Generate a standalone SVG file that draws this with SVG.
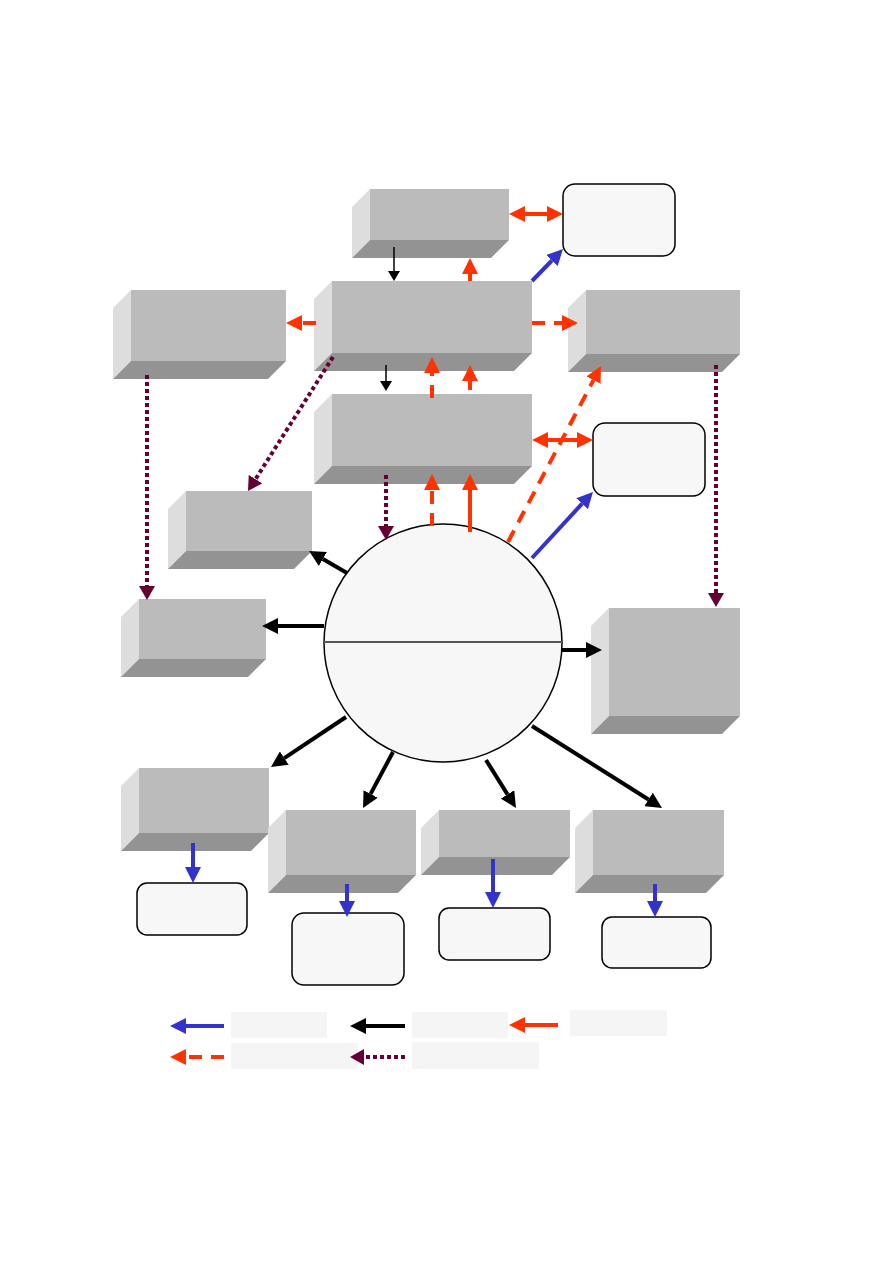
<svg xmlns="http://www.w3.org/2000/svg" width="893" height="1263" viewBox="0 0 893 1263">
<style>
.fr{fill:#BBBBBB}
.sd{fill:#DDDDDD}
.bt{fill:#939393}
.rr{fill:#F7F7F7;stroke:#000;stroke-width:1.5}
.red{stroke:#FF3300;stroke-width:4;fill:none}
.dash{stroke-dasharray:13 9}
.blue{stroke:#3333CC;stroke-width:4;fill:none}
.blk{stroke:#000;stroke-width:4;fill:none}
.thin{stroke:#000;stroke-width:1.5;fill:none}
.pur{stroke:#660033;stroke-width:4;stroke-dasharray:4 3;fill:none}
.leg{fill:#F5F5F5}
</style>
<defs>
<marker id="hr" viewBox="0 -8 16 16" refX="0" refY="0" markerUnits="userSpaceOnUse" markerWidth="16" markerHeight="16" orient="auto-start-reverse"><path d="M0,-8L16,0L0,8z" fill="#FF3300"/></marker>
<marker id="hb" viewBox="0 -8 16 16" refX="0" refY="0" markerUnits="userSpaceOnUse" markerWidth="16" markerHeight="16" orient="auto"><path d="M0,-8L16,0L0,8z" fill="#3333CC"/></marker>
<marker id="hk" viewBox="0 -8 16 16" refX="0" refY="0" markerUnits="userSpaceOnUse" markerWidth="16" markerHeight="16" orient="auto"><path d="M0,-8L16,0L0,8z" fill="#000"/></marker>
<marker id="ht" viewBox="0 -6 10 12" refX="0" refY="0" markerUnits="userSpaceOnUse" markerWidth="10" markerHeight="12" orient="auto"><path d="M0,-6L10,0L0,6z" fill="#000"/></marker>
<marker id="hp" viewBox="0 -8 14 16" refX="0" refY="0" markerUnits="userSpaceOnUse" markerWidth="14" markerHeight="16" orient="auto"><path d="M0,-8L14,0L0,8z" fill="#660033"/></marker>
</defs>

<g id="nodeA"><polygon class="sd" points="352,207 370,189 370,240 352,258"/><polygon class="bt" points="352,258 370,240 509,240 491,258"/><rect class="fr" x="370" y="189" width="139" height="51"/></g>
<g id="nodeB"><polygon class="sd" points="314,299 332,281 332,353 314,371"/><polygon class="bt" points="314,371 332,353 532,353 514,371"/><rect class="fr" x="332" y="281" width="200" height="72"/></g>
<g id="nodeC"><polygon class="sd" points="568,308 586,290 586,354 568,372"/><polygon class="bt" points="568,372 586,354 740,354 722,372"/><rect class="fr" x="586" y="290" width="154" height="64"/></g>
<g id="nodeD"><polygon class="sd" points="113,308 131,290 131,361 113,379"/><polygon class="bt" points="113,379 131,361 286,361 268,379"/><rect class="fr" x="131" y="290" width="155" height="71"/></g>
<g id="nodeE"><polygon class="sd" points="314,412 332,394 332,466 314,484"/><polygon class="bt" points="314,484 332,466 532,466 514,484"/><rect class="fr" x="332" y="394" width="200" height="72"/></g>
<g id="nodeF"><polygon class="sd" points="168,509 186,491 186,551 168,569"/><polygon class="bt" points="168,569 186,551 312,551 294,569"/><rect class="fr" x="186" y="491" width="126" height="60"/></g>
<g id="nodeG"><polygon class="sd" points="121,617 139,599 139,659 121,677"/><polygon class="bt" points="121,677 139,659 266,659 248,677"/><rect class="fr" x="139" y="599" width="127" height="60"/></g>
<g id="nodeH"><polygon class="sd" points="591,626 609,608 609,716 591,734"/><polygon class="bt" points="591,734 609,716 740,716 722,734"/><rect class="fr" x="609" y="608" width="131" height="108"/></g>
<g id="nodeI"><polygon class="sd" points="121,786 139,768 139,833 121,851"/><polygon class="bt" points="121,851 139,833 269,833 251,851"/><rect class="fr" x="139" y="768" width="130" height="65"/></g>
<g id="nodeJ"><polygon class="sd" points="268,828 286,810 286,875 268,893"/><polygon class="bt" points="268,893 286,875 416,875 398,893"/><rect class="fr" x="286" y="810" width="130" height="65"/></g>
<g id="nodeK"><polygon class="sd" points="421,828 439,810 439,857 421,875"/><polygon class="bt" points="421,875 439,857 570,857 552,875"/><rect class="fr" x="439" y="810" width="131" height="47"/></g>
<g id="nodeL"><polygon class="sd" points="575,828 593,810 593,875 575,893"/><polygon class="bt" points="575,893 593,875 724,875 706,893"/><rect class="fr" x="593" y="810" width="131" height="65"/></g>

<g id="nodeR1"><rect class="rr" x="563" y="184" width="112" height="72" rx="12"/></g>
<g id="nodeR2"><rect class="rr" x="593" y="423" width="112" height="73" rx="12"/></g>
<g id="nodeR3"><rect class="rr" x="137" y="883" width="110" height="52" rx="10"/></g>
<g id="nodeR4"><rect class="rr" x="292" y="913" width="112" height="72" rx="12"/></g>
<g id="nodeR5"><rect class="rr" x="439" y="908" width="111" height="52" rx="10"/></g>
<g id="nodeR6"><rect class="rr" x="602" y="917" width="109" height="51" rx="10"/></g>

<g id="nodeCircle"><circle cx="443" cy="643" r="119" fill="#F7F7F7" stroke="#000" stroke-width="1.5"/><line x1="324" y1="642" x2="562" y2="642" stroke="#555" stroke-width="2"/></g>

<g id="connectors">
<line class="thin" x1="394" y1="247" x2="394" y2="271" marker-end="url(#ht)"/>
<line class="red" x1="470" y1="281" x2="470" y2="274" marker-end="url(#hr)"/>
<line class="red" x1="525" y1="214" x2="547" y2="214" marker-start="url(#hr)" marker-end="url(#hr)"/>
<line class="blue" x1="532" y1="281" x2="551.9" y2="260.5" marker-end="url(#hb)"/>
<line class="red dash" x1="316" y1="323" x2="302" y2="323" marker-end="url(#hr)"/>
<line class="red dash" x1="532" y1="323" x2="562" y2="323" marker-end="url(#hr)"/>
<line class="thin" x1="386" y1="365" x2="386" y2="381" marker-end="url(#ht)"/>
<line class="red dash" x1="432" y1="398" x2="432" y2="373" marker-end="url(#hr)"/>
<line class="red" x1="470" y1="390" x2="470" y2="381" marker-end="url(#hr)"/>
<line class="pur" x1="333" y1="357" x2="255.5" y2="479.2" marker-end="url(#hp)"/>
<line class="pur" x1="147" y1="375" x2="147" y2="586" marker-end="url(#hp)"/>
<line class="pur" x1="386" y1="475" x2="386" y2="526" marker-end="url(#hp)"/>
<line class="red dash" x1="432" y1="526" x2="432" y2="490" marker-end="url(#hr)"/>
<line class="red" x1="470" y1="532" x2="470" y2="490" marker-end="url(#hr)"/>
<line class="red dash" x1="508" y1="542" x2="593.5" y2="380.1" marker-end="url(#hr)"/>
<line class="red" x1="548" y1="440" x2="577" y2="440" marker-start="url(#hr)" marker-end="url(#hr)"/>
<line class="blue" x1="532" y1="558" x2="582.1" y2="503.7" marker-end="url(#hb)"/>
<line class="pur" x1="716" y1="365" x2="716" y2="593" marker-end="url(#hp)"/>
<line class="blk" x1="347" y1="573" x2="322.9" y2="559" marker-end="url(#hk)"/>
<line class="blk" x1="324" y1="626" x2="278" y2="626" marker-end="url(#hk)"/>
<line class="blk" x1="562" y1="650" x2="586" y2="650" marker-end="url(#hk)"/>
<line class="blk" x1="346" y1="717" x2="284.3" y2="758.1" marker-end="url(#hk)"/>
<line class="blk" x1="393" y1="752" x2="370.6" y2="793.9" marker-end="url(#hk)"/>
<line class="blk" x1="486" y1="760" x2="507.5" y2="794.4" marker-end="url(#hk)"/>
<line class="blk" x1="532" y1="726" x2="648.5" y2="799.5" marker-end="url(#hk)"/>
<line class="blue" x1="193" y1="843" x2="193" y2="867" marker-end="url(#hb)"/>
<line class="blue" x1="347" y1="884" x2="347" y2="901" marker-end="url(#hb)"/>
<line class="blue" x1="493" y1="859" x2="493" y2="892" marker-end="url(#hb)"/>
<line class="blue" x1="655" y1="884" x2="655" y2="901" marker-end="url(#hb)"/>
</g>

<g id="legend">
<rect class="leg" x="231" y="1012" width="96" height="26"/>
<rect class="leg" x="412" y="1012" width="96" height="26"/>
<rect class="leg" x="570" y="1010" width="97" height="26"/>
<rect class="leg" x="231" y="1043" width="127" height="26"/>
<rect class="leg" x="412" y="1042" width="127" height="27"/>
<line class="blue" x1="224" y1="1026" x2="186" y2="1026" marker-end="url(#hb)"/>
<line class="blk" x1="405" y1="1026" x2="366" y2="1026" marker-end="url(#hk)"/>
<line class="red" x1="558" y1="1025" x2="525" y2="1025" marker-end="url(#hr)"/>
<line class="red dash" x1="224" y1="1057" x2="186" y2="1057" marker-end="url(#hr)"/>
<line class="pur" x1="405" y1="1057" x2="364" y2="1057" marker-end="url(#hp)"/>
</g>
</svg>
